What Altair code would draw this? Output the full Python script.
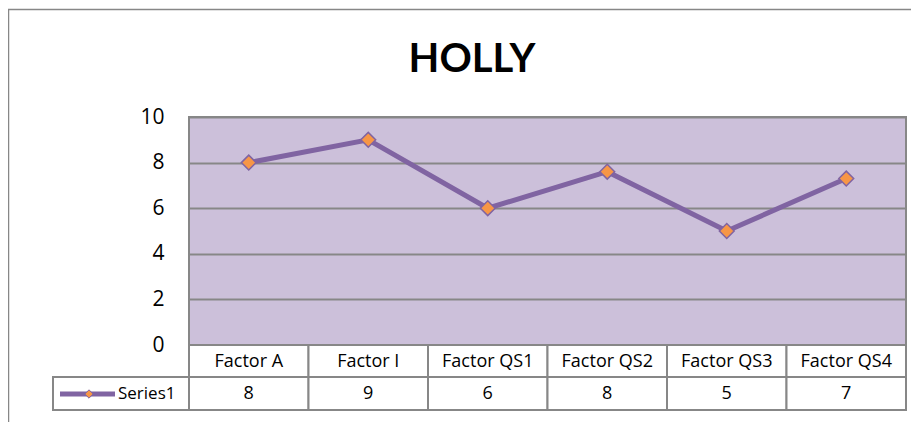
import altair as alt
import pandas as pd

categories = ["Factor A", "Factor I", "Factor QS1", "Factor QS2", "Factor QS3", "Factor QS4"]
values = [8, 9, 6, 7.6, 5, 7.3]
table_labels = ["8", "9", "6", "8", "5", "7"]
series_name = "Series1"
title_text = "HOLLY"
y_ticks = [0, 2, 4, 6, 8, 10]

df = pd.DataFrame({"cat": categories, "val": values, "lab": table_labels})
one = pd.DataFrame({"name": [series_name], "title": [title_text]})

W, H = 717, 228
LINE = "#8064A2"
MARK = "#F79646"
GRID = "#878787"
PLOT_BG = "#CCC0DA"
FONT = "Open Sans"
TITLE_FONT = "Lato"

xscale = alt.Scale(type="band", domain=categories, paddingInner=0, paddingOuter=0)
yscale = alt.Scale(domain=[0, 10], nice=False)

x_band = alt.X("cat:N", scale=xscale, axis=None, sort=categories)
x_mid = alt.X("cat:N", scale=xscale, axis=None, sort=categories, bandPosition=0.5)

frame = alt.Chart(one).mark_rect(fillOpacity=0, stroke=GRID, strokeWidth=1.5).encode(
    x=alt.value(-180.5), x2=alt.value(800), y=alt.value(-107.5), y2=alt.value(400)
)

title = alt.Chart(one).mark_text(
    font=TITLE_FONT, fontSize=40, fontWeight="bold", align="center", baseline="alphabetic", color="black"
).encode(x=alt.value(283), y=alt.value(-45), text="title:N")

line = alt.Chart(df).mark_line(color=LINE, strokeWidth=5).encode(
    x=x_mid,
    y=alt.Y("val:Q", scale=yscale,
            axis=alt.Axis(values=y_ticks, grid=True, gridColor=GRID, gridWidth=2,
                          domain=False, ticks=False, labelFont=FONT, labelFontSize=21,
                          labelPadding=25, labelColor="black", title=None)),
)

pts = alt.Chart(df).mark_point(
    shape="diamond", filled=True, fill=MARK, stroke=LINE, strokeWidth=1.5, size=220, opacity=1
).encode(x=x_mid, y=alt.Y("val:Q", scale=yscale))

head_cells = alt.Chart(df).mark_rect(fill="white", stroke=GRID, strokeWidth=2).encode(
    x=x_band, y=alt.value(228), y2=alt.value(260)
)
val_cells = alt.Chart(df).mark_rect(fill="white", stroke=GRID, strokeWidth=2).encode(
    x=x_band, y=alt.value(260), y2=alt.value(293)
)
legend_cell = alt.Chart(one).mark_rect(fill="white", stroke=GRID, strokeWidth=2).encode(
    x=alt.value(-136), x2=alt.value(0), y=alt.value(260), y2=alt.value(293)
)

head_text = alt.Chart(df).mark_text(font=FONT, fontSize=18, baseline="middle", color="black").encode(
    x=x_mid, y=alt.value(245), text="cat:N"
)
val_text = alt.Chart(df).mark_text(font=FONT, fontSize=18, baseline="middle", color="black").encode(
    x=x_mid, y=alt.value(277), text="lab:N"
)

leg_line = alt.Chart(one).mark_rule(color=LINE, strokeWidth=5).encode(
    x=alt.value(-129), x2=alt.value(-74), y=alt.value(277)
)
leg_pt = alt.Chart(one).mark_point(
    shape="diamond", filled=True, fill=MARK, stroke=LINE, strokeWidth=1, size=70, opacity=1
).encode(x=alt.value(-100), y=alt.value(277))
leg_text = alt.Chart(one).mark_text(font=FONT, fontSize=17, align="left", baseline="middle", color="black").encode(
    x=alt.value(-71), y=alt.value(277), text="name:N"
)

chart = alt.layer(
    frame, title, head_cells, val_cells, legend_cell, line, pts,
    head_text, val_text, leg_line, leg_pt, leg_text
).properties(
    width=W, height=H,
    background="white",
    autosize=alt.AutoSizeParams(type="none"),
    padding={"left": 181, "top": 109, "right": 5, "bottom": 77},
).configure_view(
    fill=PLOT_BG, stroke=GRID, strokeWidth=2
)

chart.save("out.html", embed_options={"renderer": "svg", "actions": False})
